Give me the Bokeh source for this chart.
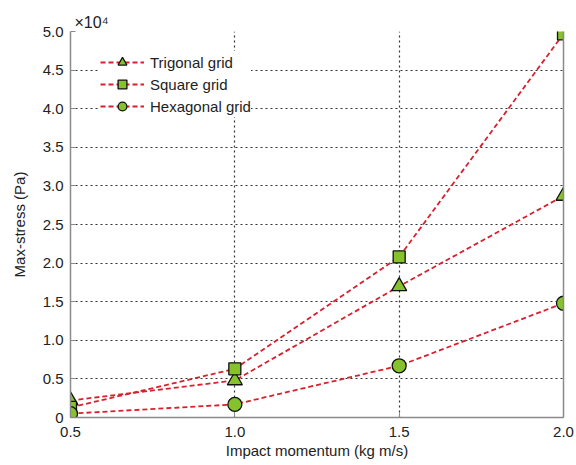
from bokeh.plotting import figure
from bokeh.models import Range1d, LinearAxis, Legend, LegendItem, FixedTicker
from bokeh.embed import file_html
from bokeh.resources import INLINE

momentum = [0.5, 1.0, 1.5, 2.0]
trigonal = [0.22, 0.48, 1.70, 2.87]
square = [0.13, 0.63, 2.08, 4.97]
hexagonal = [0.05, 0.17, 0.67, 1.48]
x_ticks = [0.5, 1.0, 1.5, 2.0]
x_tick_labels = ["0.5", "1.0", "1.5", "2.0"]
y_ticks = [0, 0.5, 1.0, 1.5, 2.0, 2.5, 3.0, 3.5, 4.0, 4.5, 5.0]
y_tick_labels = ["0", "0.5", "1.0", "1.5", "2.0", "2.5", "3.0", "3.5", "4.0", "4.5", "5.0"]
scale_label = "×10⁴"

FONT = "Liberation Sans"
RED = "#d8202e"
GREEN = "#86c22b"
SPINE = "#8a8a8a"
TXT = "#222222"

p = figure(width=576, height=465, output_backend="svg", toolbar_location=None,
           x_range=Range1d(0.5, 2.0), y_range=Range1d(0, 5.0),
           min_border_left=70, min_border_right=13, min_border_top=31, min_border_bottom=48)
p.outline_line_color = None
p.background_fill_color = "white"

p.title.text = scale_label
p.title.align = "left"
p.title.offset = 4
p.title.text_font = FONT
p.title.text_font_size = "16px"
p.title.text_font_style = "normal"
p.title.text_color = TXT
p.title.standoff = 2

for ax in (p.xaxis[0], p.yaxis[0]):
    ax.axis_line_color = SPINE
    ax.axis_line_width = 1.5
    ax.major_tick_in = 5
    ax.major_tick_out = 0
    ax.major_tick_line_color = SPINE
    ax.minor_tick_line_color = None
    ax.major_label_text_font = FONT
    ax.major_label_text_font_size = "15px"
    ax.major_label_text_color = TXT
    ax.axis_label_text_font = FONT
    ax.axis_label_text_font_size = "15px"
    ax.axis_label_text_font_style = "normal"
    ax.axis_label_text_color = TXT

p.xaxis[0].ticker = FixedTicker(ticks=x_ticks)
p.yaxis[0].ticker = FixedTicker(ticks=y_ticks)
p.xaxis[0].major_label_overrides = dict(zip(x_ticks, x_tick_labels))
p.yaxis[0].major_label_overrides = dict(zip(y_ticks, y_tick_labels))
p.xaxis[0].axis_label = "Impact momentum (kg m/s)"
p.yaxis[0].axis_label = "Max-stress (Pa)"
p.xaxis[0].major_label_standoff = 9
p.xaxis[0].axis_label_standoff = 2
p.yaxis[0].major_label_standoff = 7
p.yaxis[0].axis_label_standoff = 12

right = LinearAxis(ticker=FixedTicker(ticks=[]), axis_line_color=SPINE, axis_line_width=1.5,
                   major_tick_line_color=None, minor_tick_line_color=None)
p.add_layout(right, "right")

for g in (p.xgrid[0], p.ygrid[0]):
    g.grid_line_color = "#333333"
    g.grid_line_dash = "2 3"
    g.grid_line_width = 1.2
p.xgrid[0].ticker = FixedTicker(ticks=x_ticks)
p.ygrid[0].ticker = FixedTicker(ticks=y_ticks)

items = []
specs = [("Trigonal grid", trigonal, "triangle", 15),
         ("Square grid", square, "square", 12),
         ("Hexagonal grid", hexagonal, "circle", 14)]
for name, ys, marker, size in specs:
    l = p.line(momentum, ys, line_color=RED, line_width=1.8, line_dash="5 3")
    s = p.scatter(momentum, ys, marker=marker, size=size, fill_color=GREEN,
                  line_color="#111111", line_width=1.3)
    items.append(LegendItem(label=name, renderers=[l, s]))

legend = Legend(items=items, location=(30, 300), orientation="vertical")
legend.border_line_color = None
legend.background_fill_color = "white"
legend.background_fill_alpha = 1.0
legend.glyph_width = 44
legend.glyph_height = 22
legend.label_text_font = FONT
legend.label_text_font_size = "15px"
legend.label_text_color = TXT
legend.label_standoff = 6
legend.spacing = 0
legend.padding = 2
legend.margin = 0
p.add_layout(legend)

open("out.html", "w").write(file_html(p, INLINE))
